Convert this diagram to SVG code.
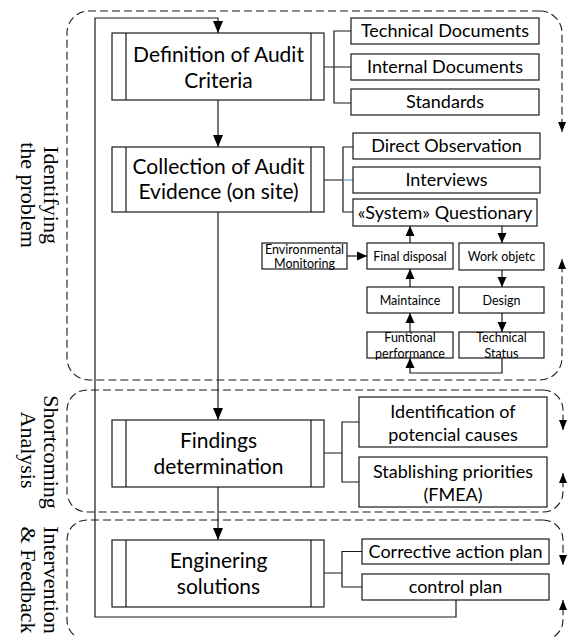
<svg xmlns="http://www.w3.org/2000/svg" width="568" height="637" viewBox="0 0 568 637">
<defs>
<style>
.bx{fill:#fff;stroke:#1a1a1a;stroke-width:1.2}
.ln{fill:none;stroke:#1a1a1a;stroke-width:1.2}
.ds{fill:none;stroke:#1a1a1a;stroke-width:1.1;stroke-dasharray:8 4}
.t1{font-family:Lato,"Liberation Sans",sans-serif;font-size:21px;text-anchor:middle;fill:#000}
.t2{font-family:Lato,"Liberation Sans",sans-serif;font-size:18px;text-anchor:middle;fill:#000}
.t3{font-family:Lato,"Liberation Sans",sans-serif;font-size:12.5px;text-anchor:middle;fill:#000}
.lb{font-family:"Liberation Serif",serif;font-size:22px;text-anchor:middle;fill:#000}
</style>
<marker id="a" markerUnits="userSpaceOnUse" markerWidth="12" markerHeight="10" refX="12" refY="5" orient="auto"><path d="M0,0 L12,5 L0,10 z" fill="#000"/></marker>
<marker id="s" markerUnits="userSpaceOnUse" markerWidth="10" markerHeight="10" refX="10" refY="5" orient="auto"><path d="M0,0.5 L10,5 L0,9.5 z" fill="#000"/></marker>
<marker id="d" markerUnits="userSpaceOnUse" markerWidth="10" markerHeight="9" refX="10" refY="4.5" orient="auto"><path d="M0,0.5 L10,4.5 L0,8.5 z" fill="#000"/></marker>
</defs>

<g id="regions">
<path class="ds" d="M540,11 H89 A22,22 0 0 0 67,33 V358 A22,22 0 0 0 89,380 H540"/>
<path class="ds" d="M540,11 A22,22 0 0 1 562,33 V132" marker-end="url(#d)"/>
<path class="ds" d="M540,380 A22,22 0 0 0 562,358 V259" marker-end="url(#d)"/>
<path class="ds" d="M543,390 H87 A20,20 0 0 0 67,410 V492 A20,20 0 0 0 87,512 H543"/>
<path class="ds" d="M543,390 A20,20 0 0 1 563,410 V430" marker-end="url(#d)"/>
<path class="ds" d="M543,512 A20,20 0 0 0 563,492 V473" marker-end="url(#d)"/>
<path class="ds" d="M543,520 H87 A20,20 0 0 0 67,540 V620 A20,20 0 0 0 87,640 H543"/>
<path class="ds" d="M543,520 A20,20 0 0 1 563,540 V565" marker-end="url(#d)"/>
<path class="ds" d="M543,640 A20,20 0 0 0 563,620 V600" marker-end="url(#d)"/>
<text class="lb" transform="translate(44,195) rotate(90)">Identifying</text>
<text class="lb" transform="translate(21,195) rotate(90)">the problem</text>
<text class="lb" transform="translate(44,452) rotate(90)">Shortcoming</text>
<text class="lb" transform="translate(21,450) rotate(90)">Analysis</text>
<text class="lb" transform="translate(44,580) rotate(90)">Intervention</text>
<text class="lb" transform="translate(21,580) rotate(90)">&amp; Feedback</text>
</g>

<g id="connectors">
<path class="ln" d="M456,600 V617 H95 V18 H218 V33" marker-end="url(#a)"/>
<path class="ln" d="M218,100 V147" marker-end="url(#a)"/>
<path class="ln" d="M218,212 V420" marker-end="url(#a)"/>
<path class="ln" d="M218,487 V540" marker-end="url(#a)"/>
<path class="ln" d="M351,31 H334 V103 H351 M324,67 H351"/>
<path class="ln" d="M353,147 H343 V212 H353 M324,180 H343"/>
<path fill="none" stroke="#5b9bd5" stroke-width="1.2" d="M343,180 H353"/>
<path class="ln" d="M359,422 H342 V482 H359 M324,453 H342"/>
<path class="ln" d="M362,551.5 H342 V587 H362 M324,573 H342"/>
<path class="ln" d="M410,243 V226" marker-end="url(#s)"/>
<path class="ln" d="M502,226 V243" marker-end="url(#s)"/>
<path class="ln" d="M502,270 V287" marker-end="url(#s)"/>
<path class="ln" d="M502,313 V332" marker-end="url(#s)"/>
<path class="ln" d="M410,287 V269" marker-end="url(#s)"/>
<path class="ln" d="M410,332 V313" marker-end="url(#s)"/>
<path class="ln" d="M502,358 V373 H410 V358" marker-end="url(#s)"/>
<path class="ln" d="M347,256 H367" marker-end="url(#s)"/>
</g>

<g id="n-definition">
<rect class="bx" x="112" y="33" width="212" height="67"/>
<path class="ln" d="M126,33 V100 M311,33 V100"/>
<text class="t1" x="218.5" y="62">Definition of Audit</text>
<text class="t1" x="218.5" y="88">Criteria</text>
</g>
<g id="n-collection">
<rect class="bx" x="112" y="147" width="212" height="65"/>
<path class="ln" d="M126,147 V212 M311,147 V212"/>
<text class="t1" x="218.5" y="174">Collection of Audit</text>
<text class="t1" x="218.5" y="199">Evidence (on site)</text>
</g>
<g id="n-findings">
<rect class="bx" x="112" y="420" width="212" height="67"/>
<path class="ln" d="M126,420 V487 M311,420 V487"/>
<text class="t1" x="218.5" y="448">Findings</text>
<text class="t1" x="218.5" y="474">determination</text>
</g>
<g id="n-engineering">
<rect class="bx" x="112" y="540" width="212" height="67"/>
<path class="ln" d="M126,540 V607 M311,540 V607"/>
<text class="t1" x="218.5" y="568">Enginering</text>
<text class="t1" x="218.5" y="594">solutions</text>
</g>

<g id="n-techdocs"><rect class="bx" x="351" y="18" width="188" height="26"/><text class="t2" x="445" y="37">Technical Documents</text></g>
<g id="n-intdocs"><rect class="bx" x="351" y="54" width="188" height="26"/><text class="t2" x="445" y="73">Internal Documents</text></g>
<g id="n-standards"><rect class="bx" x="351" y="89" width="188" height="26"/><text class="t2" x="445" y="108">Standards</text></g>
<g id="n-direct"><rect class="bx" x="353" y="133" width="187" height="26"/><text class="t2" x="446.5" y="152">Direct Observation</text></g>
<g id="n-interviews"><rect class="bx" x="353" y="167" width="187" height="26"/><text class="t2" x="446.5" y="186">Interviews</text></g>
<g id="n-questionary"><rect class="bx" x="353" y="199" width="184" height="27"/><text class="t2" x="445" y="219">«System» Questionary</text></g>

<g id="n-env"><rect class="bx" x="262" y="243" width="85" height="26"/><text class="t3" x="304.5" y="253.5">Environmental</text><text class="t3" x="304.5" y="267.5">Monitoring</text></g>
<g id="n-final"><rect class="bx" x="367" y="243" width="86" height="26"/><text class="t3" x="410" y="260.5">Final disposal</text></g>
<g id="n-work"><rect class="bx" x="459" y="243" width="85" height="27"/><text class="t3" x="501.5" y="261">Work objetc</text></g>
<g id="n-maint"><rect class="bx" x="367" y="287" width="86" height="26"/><text class="t3" x="410" y="304.5">Maintaince</text></g>
<g id="n-design"><rect class="bx" x="459" y="287" width="85" height="26"/><text class="t3" x="501.5" y="304.5">Design</text></g>
<g id="n-funtional"><rect class="bx" x="367" y="332" width="86" height="26"/><text class="t3" x="410" y="341.5">Funtional</text><text class="t3" x="410" y="357.5">performance</text></g>
<g id="n-techstatus"><rect class="bx" x="459" y="332" width="85" height="26"/><text class="t3" x="501.5" y="341.5">Technical</text><text class="t3" x="501.5" y="357.5">Status</text></g>

<g id="n-identification"><rect class="bx" x="359" y="397" width="188" height="50"/><text class="t2" x="453" y="418">Identification of</text><text class="t2" x="453" y="441">potencial causes</text></g>
<g id="n-stablishing"><rect class="bx" x="359" y="457" width="188" height="50"/><text class="t2" x="453" y="478">Stablishing priorities</text><text class="t2" x="453" y="501">(FMEA)</text></g>
<g id="n-corrective"><rect class="bx" x="362" y="539" width="187" height="25"/><text class="t2" x="455.5" y="558">Corrective action plan</text></g>
<g id="n-control"><rect class="bx" x="362" y="574" width="187" height="26"/><text class="t2" x="455.5" y="593">control plan</text></g>
</svg>
